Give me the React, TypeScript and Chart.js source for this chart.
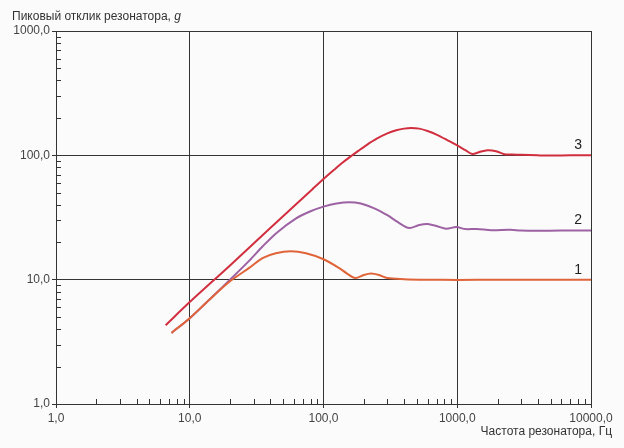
import React, { useEffect, useRef } from "react";
import { Chart, registerables } from "chart.js";

Chart.register(...registerables);

// Curve 3 (red)
const freq3 = [6.6, 10, 20, 40, 83, 100, 120, 140, 160, 183, 210, 250, 300, 350, 400, 451, 520, 600, 700, 870, 1000, 1150, 1300, 1450, 1680, 1950, 2250, 2600, 3000, 4000, 5000, 7000, 10000];
const resp3 = [4.3, 6.6, 13, 26, 53.7, 64.5, 76.5, 88, 98, 109, 121, 136, 150, 159, 164, 166, 164, 157, 147, 130, 120, 110, 102.5, 106, 110, 108, 102, 101.5, 101, 100, 99.5, 100, 100];

// Curve 2 (purple)
const freq2 = [7.3, 10, 14, 20, 28, 35, 45, 62, 80, 100, 125, 156, 190, 240, 300, 360, 438, 520, 600, 700, 827, 983, 1150, 1400, 1800, 2500, 3000, 4000, 6000, 10000];
const resp2 = [3.73, 4.9, 6.9, 10, 14.3, 18.5, 24, 31, 35.5, 38.7, 41, 42, 41, 37.5, 33, 29, 26, 27.5, 28, 27, 25.7, 26.5, 25.5, 25.6, 25, 25.2, 24.8, 24.7, 24.8, 24.8];

// Curve 1 (orange)
const freq1 = [7.3, 10, 14, 20, 28, 35, 44, 57, 74, 100, 131, 150, 173, 200, 227, 260, 300, 400, 600, 1000, 2000, 4000, 10000];
const resp1 = [3.73, 4.9, 6.9, 9.7, 12.5, 14.9, 16.3, 16.9, 16.3, 14.6, 12.4, 11.2, 10.3, 10.9, 11.2, 10.9, 10.3, 10.1, 10, 9.95, 10, 10, 10];

const xTickValues = [1, 10, 100, 1000, 10000];
const xTickLabels = ["1,0", "10,0", "100,0", "1000,0", "10000,0"];
const yTickValues = [1, 10, 100, 1000];
const yTickLabels = ["1,0", "10,0", "100,0", "1000,0"];
const seriesNames = ["1", "2", "3"];
const labelFreq = 8000;

const yAxisTitle = "Пиковый отклик резонатора, ";
const yAxisTitleVar = "g";
const xAxisTitle = "Частота резонатора, Гц";

const FONT = "'Liberation Sans', Arial, sans-serif";

export default function App() {
  const ref = useRef<HTMLCanvasElement | null>(null);

  useEffect(() => {
    const canvas = ref.current;
    if (!canvas) return;

    const bgPlugin = {
      id: "bg",
      beforeDraw(chart: any) {
        const ctx = chart.ctx;
        ctx.save();
        ctx.fillStyle = "#fbfbfb";
        ctx.fillRect(0, 0, chart.width, chart.height);
        ctx.restore();
      },
    };

    const extrasPlugin = {
      id: "extras",
      afterDraw(chart: any) {
        const ctx = chart.ctx;
        const xs = chart.scales.x;
        const ys = chart.scales.y;
        const area = chart.chartArea;
        ctx.save();
        // minor ticks
        ctx.strokeStyle = "#333";
        ctx.lineWidth = 1;
        ctx.beginPath();
        for (let d = 1; d < 10000; d *= 10) {
          for (let m = 2; m <= 9; m++) {
            const px = Math.round(xs.getPixelForValue(d * m)) + 0.5;
            ctx.moveTo(px, Math.round(area.bottom));
            ctx.lineTo(px, Math.round(area.bottom) - 5);
          }
        }
        for (let d = 1; d < 1000; d *= 10) {
          for (let m = 2; m <= 9; m++) {
            const py = Math.round(ys.getPixelForValue(d * m)) + 0.5;
            ctx.moveTo(Math.round(area.left), py);
            ctx.lineTo(Math.round(area.left) + 5, py);
          }
        }
        ctx.stroke();

        // y axis title
        ctx.fillStyle = "#333";
        ctx.textBaseline = "middle";
        ctx.textAlign = "left";
        ctx.font = `12px ${FONT}`;
        ctx.fillText(yAxisTitle, 12, 17);
        const w = ctx.measureText(yAxisTitle).width;
        ctx.font = `italic 12px ${FONT}`;
        ctx.fillText(yAxisTitleVar, 12 + w, 17);

        // x axis title
        ctx.font = `12px ${FONT}`;
        ctx.textAlign = "right";
        ctx.fillText(xAxisTitle, 612, 432);

        // curve labels
        ctx.font = `14px ${FONT}`;
        ctx.textAlign = "center";
        ctx.fillStyle = "#222";
        const lastVals = [resp1[resp1.length - 1], resp2[resp2.length - 1], resp3[resp3.length - 1]];
        const lx = xs.getPixelForValue(labelFreq);
        seriesNames.forEach((n, i) => {
          ctx.fillText(n, lx, ys.getPixelForValue(lastVals[i]) - 10);
        });
        ctx.restore();
      },
    };

    const toPts = (f: number[], g: number[]) => f.map((x, i) => ({ x, y: g[i] }));

    const common = {
      borderWidth: 2,
      pointRadius: 0,
      tension: 0.3,
      cubicInterpolationMode: "default" as const,
    };

    const chart = new Chart(canvas, {
      type: "line",
      data: {
        datasets: [
          { ...common, label: seriesNames[0], data: toPts(freq1, resp1), borderColor: "#e0643a", order: 1 },
          { ...common, label: seriesNames[1], data: toPts(freq2, resp2), borderColor: "#9d62a3", order: 2 },
          { ...common, label: seriesNames[2], data: toPts(freq3, resp3), borderColor: "#d12f3f", order: 0 },
        ],
      },
      options: {
        responsive: false,
        animation: false,
        parsing: false as any,
        layout: { padding: { left: 0, top: 31, right: 33, bottom: 0 } },
        plugins: {
          legend: { display: false },
          tooltip: { enabled: false },
          title: { display: false },
        },
        scales: {
          x: {
            type: "logarithmic",
            min: 1,
            max: 10000,
            afterBuildTicks: (s: any) => {
              s.ticks = xTickValues.map((v) => ({ value: v, major: true }));
            },
            afterFit: (s: any) => {
              s.height = 44;
            },
            ticks: {
              autoSkip: false,
              maxRotation: 0,
              padding: 3,
              color: "#444",
              font: { family: FONT, size: 12 },
              callback: (v: any) => xTickLabels[xTickValues.indexOf(Number(v))] ?? "",
            },
            grid: { color: "#333", lineWidth: 1, tickLength: 4, drawTicks: true },
            border: { color: "#333", width: 1 },
          },
          y: {
            type: "logarithmic",
            min: 1,
            max: 1000,
            afterBuildTicks: (s: any) => {
              s.ticks = yTickValues.map((v) => ({ value: v, major: true }));
            },
            afterFit: (s: any) => {
              s.width = 56;
            },
            ticks: {
              autoSkip: false,
              padding: 2,
              color: "#444",
              font: { family: FONT, size: 12 },
              callback: (v: any) => yTickLabels[yTickValues.indexOf(Number(v))] ?? "",
            },
            grid: { color: "#333", lineWidth: 1, tickLength: 4, drawTicks: true },
            border: { color: "#333", width: 1 },
          },
        },
      },
      plugins: [bgPlugin, extrasPlugin],
    });

    return () => chart.destroy();
  }, []);

  return (
    <div style={{ position: "fixed", left: 0, top: 0, width: 624, height: 448, background: "#fbfbfb" }}>
      <canvas ref={ref} width={624} height={448} />
    </div>
  );
}
